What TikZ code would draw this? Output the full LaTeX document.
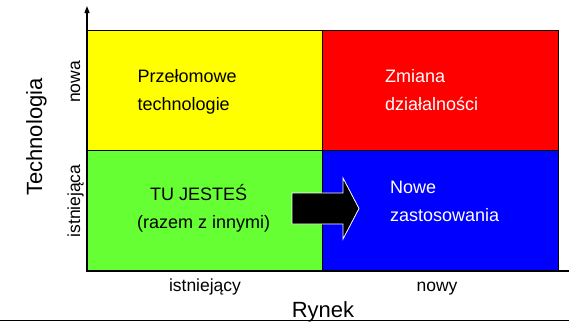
\documentclass[tikz,border=0pt]{standalone}
\usepackage{fontspec}
\setmainfont{Liberation Sans}
\usetikzlibrary{arrows.meta}
\definecolor{qyellow}{RGB}{255,255,0}
\definecolor{qred}{RGB}{255,0,0}
\definecolor{qgreen}{RGB}{102,255,51}
\definecolor{qblue}{RGB}{0,0,255}
\begin{document}
\begin{tikzpicture}[x=1pt,y=-1pt,
  quad/.style={draw=black,line width=1.2pt,inner sep=0pt,minimum width=236pt,minimum height=120.5pt},
  txt/.style={font=\fontsize{18}{21}\selectfont,inner sep=0pt,anchor=base west},
  lbl/.style={font=\fontsize{17.5}{20}\selectfont,inner sep=0pt,anchor=base},
  big/.style={font=\fontsize{22}{26}\selectfont,inner sep=0pt,anchor=base}]
\useasboundingbox (0,0) rectangle (569,322);
% quadrants
\node[quad,fill=qyellow] (tl) at (205,90.5) {};
\node[quad,fill=qred] (tr) at (440.5,90.5) {};
\node[quad,fill=qgreen] (bl) at (205,211) {};
\node[quad,fill=qblue] (br) at (440.5,211) {};
% axes
\coordinate (o) at (87,271);
\coordinate (ytop) at (87,6);
\coordinate (xend) at (569,271);
\draw[line width=1.2pt,-{Triangle[length=7pt,width=5pt]}] (o) -- (ytop);
\draw[line width=1.2pt] (o) -- (xend);
% bottom rule
\coordinate (ruleL) at (0,320.5);
\coordinate (ruleR) at (569,320.5);
\draw[line width=1.5pt] (ruleL) -- (ruleR);
% block arrow
\draw[draw=white,line width=0.8pt,fill=black]
  (292,193) -- (343,193) -- (343,178) -- (359,208.5) -- (343,239) -- (343,224) -- (292,224) -- cycle;
% quadrant texts
\node[txt] (t1a) at (137.5,82) {Przełomowe};
\node[txt] (t1b) at (137.5,110) {technologie};
\node[txt,text=white] (t2a) at (385,82) {Zmiana};
\node[txt,text=white] (t2b) at (385,110) {działalności};
\node[txt] (t3a) at (150,200) {TU JESTEŚ};
\node[txt] (t3b) at (137,228) {(razem z innymi)};
\node[txt,text=white] (t4a) at (390,193) {Nowe};
\node[txt,text=white] (t4b) at (390,221) {zastosowania};
% axis labels
\node[lbl] (xl1) at (205,291) {istniejący};
\node[lbl] (xl2) at (437,291) {nowy};
\node[big] (xt) at (323,317) {Rynek};
\node[lbl,rotate=90] (yl1) at (80,82) {nowa};
\node[lbl,rotate=90] (yl2) at (80,201) {istniejąca};
\node[big,rotate=90] (yt) at (42,137) {Technologia};
\end{tikzpicture}
\end{document}
